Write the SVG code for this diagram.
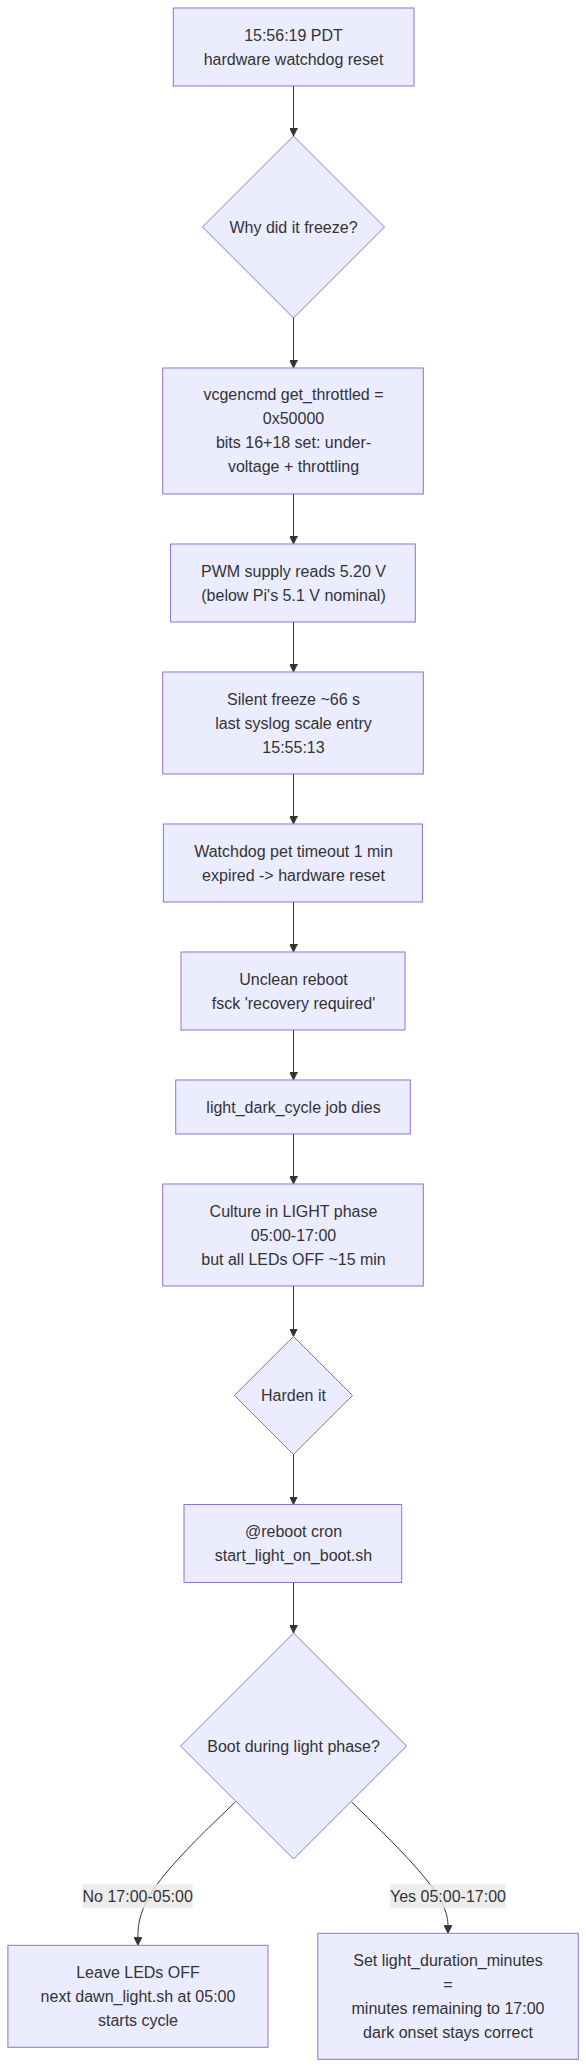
<svg xmlns="http://www.w3.org/2000/svg" width="586" height="2068" viewBox="0 0 586 2068">
<style>
.node rect, .node polygon { fill: #ECECFF; stroke: #9370DB; stroke-width: 1px; }
text { font-family: "Liberation Sans", Arial, sans-serif; font-size: 16px; fill: #333333; text-anchor: middle; dominant-baseline: central; }
.edge { fill: none; stroke: #333333; stroke-width: 1px; }
.lbl rect { fill: rgba(232,232,232,0.8); stroke: none; }
</style>
<defs>
<marker id="arrow" viewBox="0 0 10 10" refX="10" refY="5" markerUnits="userSpaceOnUse" markerWidth="8" markerHeight="8" orient="auto">
<path d="M 0 0 L 10 5 L 0 10 z" fill="#333333" stroke="#333333" stroke-width="1"/>
</marker>
</defs>
<rect x="0" y="0" width="586" height="2068" fill="#ffffff"/>

<g id="connectors">
<path class="edge" d="M293.5,86 L293.5,136" marker-end="url(#arrow)"/>
<path class="edge" d="M293.5,318 L293.5,368" marker-end="url(#arrow)"/>
<path class="edge" d="M293.5,494 L293.5,544" marker-end="url(#arrow)"/>
<path class="edge" d="M293.5,622 L293.5,672" marker-end="url(#arrow)"/>
<path class="edge" d="M293.5,774 L293.5,824" marker-end="url(#arrow)"/>
<path class="edge" d="M293.5,902 L293.5,952" marker-end="url(#arrow)"/>
<path class="edge" d="M293.5,1030 L293.5,1080" marker-end="url(#arrow)"/>
<path class="edge" d="M293.5,1134 L293.5,1184" marker-end="url(#arrow)"/>
<path class="edge" d="M293.5,1286 L293.5,1336.5" marker-end="url(#arrow)"/>
<path class="edge" d="M293.5,1454.5 L293.5,1504.5" marker-end="url(#arrow)"/>
<path class="edge" d="M293.5,1582.5 L293.5,1633" marker-end="url(#arrow)"/>
<path class="edge" d="M235.5,1801.7 L219.2,1817.5 C202.9,1833.2 170.3,1864.8 154.05,1888.7 C137.8,1912.6 137.9,1929 137.95,1937.1 L138,1945.3" marker-end="url(#arrow)"/>
<path class="edge" d="M351.4,1801.7 L367.5,1817.5 C383.6,1833.2 415.8,1864.8 431.9,1886.7 C448,1908.6 448,1921 448,1927.1 L448,1933.3" marker-end="url(#arrow)"/>
<g class="lbl" id="label-no">
<rect x="82.7" y="1884.3" width="110" height="24"/>
<text x="137.7" y="1896.3">No 17:00-05:00</text>
</g>
<g class="lbl" id="label-yes">
<rect x="390" y="1884.3" width="116" height="24"/>
<text x="448" y="1896.3">Yes 05:00-17:00</text>
</g>
</g>

<g id="n1" class="node">
<rect x="173.3" y="8" width="240.7" height="78"/>
<text x="293.5" y="35">15:56:19 PDT</text>
<text x="293.5" y="59">hardware watchdog reset</text>
</g>
<g id="n2" class="node">
<polygon points="293.5,136 384.5,227 293.5,318 202.5,227"/>
<text x="293.5" y="227">Why did it freeze?</text>
</g>
<g id="n3" class="node">
<rect x="162.7" y="368" width="260.6" height="126"/>
<text x="293.5" y="394">vcgencmd get_throttled =</text>
<text x="293.5" y="418">0x50000</text>
<text x="293.5" y="442">bits 16+18 set: under-</text>
<text x="293.5" y="466">voltage + throttling</text>
</g>
<g id="n4" class="node">
<rect x="170.5" y="544" width="244.8" height="78"/>
<text x="293.5" y="571">PWM supply reads 5.20 V</text>
<text x="293.5" y="595">(below Pi's 5.1 V nominal)</text>
</g>
<g id="n5" class="node">
<rect x="162.7" y="672" width="260.6" height="102"/>
<text x="293.5" y="699">Silent freeze ~66 s</text>
<text x="293.5" y="723">last syslog scale entry</text>
<text x="293.5" y="747">15:55:13</text>
</g>
<g id="n6" class="node">
<rect x="163.4" y="824" width="259" height="78"/>
<text x="293.5" y="851">Watchdog pet timeout 1 min</text>
<text x="293.5" y="875">expired -&gt; hardware reset</text>
</g>
<g id="n7" class="node">
<rect x="181" y="952" width="224" height="78"/>
<text x="293.5" y="979">Unclean reboot</text>
<text x="293.5" y="1003">fsck 'recovery required'</text>
</g>
<g id="n8" class="node">
<rect x="175.7" y="1080" width="234.6" height="54"/>
<text x="293.5" y="1107">light_dark_cycle job dies</text>
</g>
<g id="n9" class="node">
<rect x="162.7" y="1184" width="260.6" height="102"/>
<text x="293.5" y="1211">Culture in LIGHT phase</text>
<text x="293.5" y="1235">05:00-17:00</text>
<text x="293.5" y="1259">but all LEDs OFF ~15 min</text>
</g>
<g id="n10" class="node">
<polygon points="293.5,1336.5 352.5,1395.5 293.5,1454.5 234.5,1395.5"/>
<text x="293.5" y="1395.5">Harden it</text>
</g>
<g id="n11" class="node">
<rect x="184" y="1504.5" width="217.7" height="78"/>
<text x="293.5" y="1531.5">@reboot cron</text>
<text x="293.5" y="1555.5">start_light_on_boot.sh</text>
</g>
<g id="n12" class="node">
<polygon points="293.6,1633 406.6,1746 293.6,1859 180.6,1746"/>
<text x="293.6" y="1746">Boot during light phase?</text>
</g>
<g id="n13" class="node">
<rect x="7.9" y="1945.3" width="260.1" height="102"/>
<text x="138" y="1972.3">Leave LEDs OFF</text>
<text x="138" y="1996.3">next dawn_light.sh at 05:00</text>
<text x="138" y="2020.3">starts cycle</text>
</g>
<g id="n14" class="node">
<rect x="317.8" y="1933.3" width="260.5" height="126"/>
<text x="448" y="1960.3">Set light_duration_minutes</text>
<text x="448" y="1984.3">=</text>
<text x="448" y="2008.3">minutes remaining to 17:00</text>
<text x="448" y="2032.3">dark onset stays correct</text>
</g>
</svg>
